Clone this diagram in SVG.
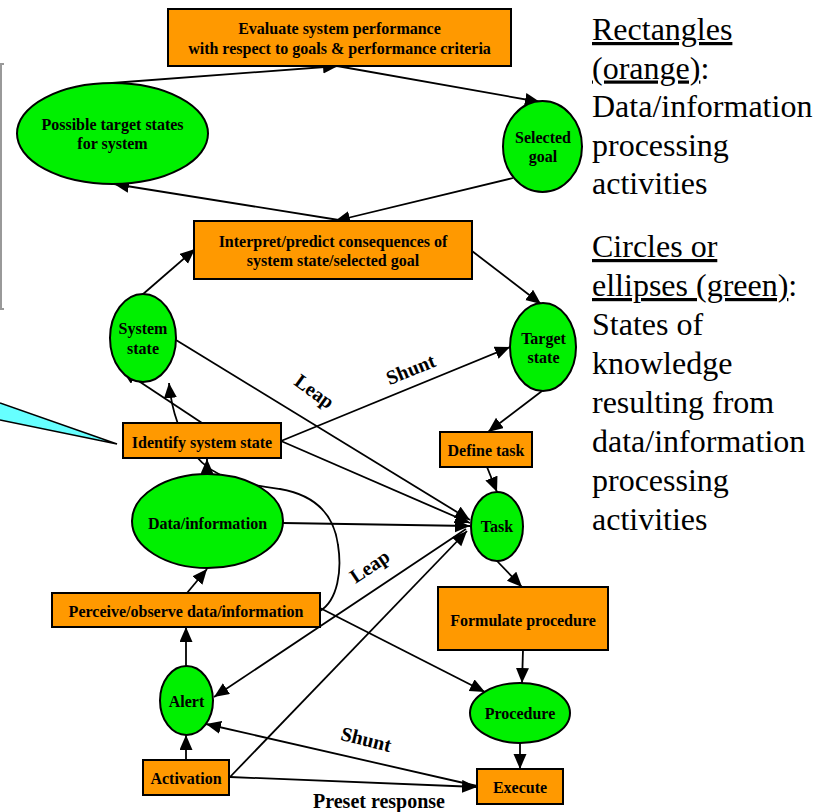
<svg xmlns="http://www.w3.org/2000/svg" width="832" height="812" viewBox="0 0 832 812">
  <defs>
    <marker id="arrow" markerUnits="userSpaceOnUse" markerWidth="16" markerHeight="14" refX="15" refY="6.5" orient="auto">
      <path d="M0,0 L15,6.5 L0,13 z" fill="#000"/>
    </marker>
    <style>
      .box { fill: #ff9900; stroke: #000; stroke-width: 2; }
      .state { fill: #00f000; stroke: #000; stroke-width: 2; }
      .lbl { font-family: "Liberation Serif", "Times New Roman", serif; font-weight: bold; font-size: 16px; fill: #000; text-anchor: middle; }
      .edge { fill: none; stroke: #000; stroke-width: 1.8; marker-end: url(#arrow); }
      .elbl { font-family: "Liberation Serif", "Times New Roman", serif; font-weight: bold; font-size: 20px; fill: #000; text-anchor: middle; }
      .legend { font-family: "Liberation Serif", "Times New Roman", serif; font-size: 32px; fill: #000; }
      .ul { text-decoration: underline; }
    </style>
  </defs>

  <rect width="832" height="812" fill="#fff"/>

  <!-- frame edge on the left -->
  <path d="M4,64 H1 V309 H4" fill="none" stroke="#999" stroke-width="2"/>

  <!-- callout pointer -->
  <path d="M0,403 L117,444 L0,420" fill="#66ffff" stroke="#000" stroke-width="1.5"/>

  <!-- connectors -->
  <g id="connectors">
    <line class="edge" x1="112" y1="83" x2="338" y2="66"/>
    <line class="edge" x1="337" y1="66" x2="540" y2="102"/>
    <line class="edge" x1="513" y1="178" x2="335" y2="221"/>
    <line class="edge" x1="345" y1="221" x2="114" y2="184"/>
    <line class="edge" x1="142" y1="295" x2="195" y2="249"/>
    <line class="edge" x1="472" y1="251" x2="541" y2="304"/>
    <line class="edge" x1="542" y1="391" x2="488" y2="432"/>
    <line class="edge" x1="487" y1="467" x2="497" y2="492"/>
    <line class="edge" x1="497" y1="561" x2="522" y2="587"/>
    <line class="edge" x1="523" y1="650" x2="522" y2="683"/>
    <line class="edge" x1="520" y1="743" x2="520" y2="769"/>
    <line class="edge" x1="176" y1="340" x2="470" y2="520"/>
    <line class="edge" x1="281" y1="441" x2="470" y2="523"/>
    <line class="edge" x1="281" y1="441" x2="510" y2="347"/>
    <line class="edge" x1="202" y1="423" x2="122" y2="370"/>
    <path class="edge" d="M320,611 C338,600 342,570 338,545 C334,515 315,495 280,489 C245,484 215,480 195,455 C182,438 172,415 169,383"/>
    <line class="edge" x1="207" y1="474" x2="207" y2="459"/>
    <line class="edge" x1="187" y1="593" x2="207" y2="569"/>
    <line class="edge" x1="186" y1="666" x2="186" y2="627"/>
    <line class="edge" x1="186" y1="760" x2="186" y2="735"/>
    <line class="edge" x1="283" y1="523" x2="470" y2="526"/>
    <line class="edge" x1="466" y1="529" x2="214" y2="697"/>
    <line class="edge" x1="230" y1="777" x2="467" y2="531"/>
    <line class="edge" x1="320" y1="608" x2="485" y2="692"/>
    <line class="edge" x1="477" y1="786" x2="206" y2="724"/>
    <line class="edge" x1="230" y1="777" x2="477" y2="787"/>

    <text class="elbl" transform="translate(314,392) rotate(36)" y="6">Leap</text>
    <text class="elbl" transform="translate(411,370) rotate(-22)" y="6">Shunt</text>
    <text class="elbl" transform="translate(370,567) rotate(-34)" y="6">Leap</text>
    <text class="elbl" transform="translate(366,740) rotate(14)" y="6">Shunt</text>
    <text class="elbl" x="379" y="808">Preset response</text>
  </g>

  <!-- nodes -->
  <g id="evaluate">
    <rect class="box" x="168" y="9" width="343" height="57"/>
    <text class="lbl" x="339.5" y="34">Evaluate system performance</text>
    <text class="lbl" x="339.5" y="54">with respect to goals &amp; performance criteria</text>
  </g>
  <g id="possible-targets">
    <ellipse class="state" cx="112.5" cy="133.5" rx="95.5" ry="50.5"/>
    <text class="lbl" x="112.5" y="130">Possible target states</text>
    <text class="lbl" x="112.5" y="149">for system</text>
  </g>
  <g id="selected-goal">
    <ellipse class="state" cx="542.5" cy="146.5" rx="39.5" ry="45.5"/>
    <text class="lbl" x="543" y="143">Selected</text>
    <text class="lbl" x="543" y="162">goal</text>
  </g>
  <g id="interpret">
    <rect class="box" x="194" y="221" width="278" height="58"/>
    <text class="lbl" x="333" y="247">Interpret/predict consequences of</text>
    <text class="lbl" x="333" y="266">system state/selected goal</text>
  </g>
  <g id="system-state">
    <ellipse class="state" cx="143" cy="338" rx="33" ry="44"/>
    <text class="lbl" x="143" y="334">System</text>
    <text class="lbl" x="143" y="354">state</text>
  </g>
  <g id="target-state">
    <ellipse class="state" cx="543" cy="347" rx="33" ry="44"/>
    <text class="lbl" x="543.5" y="344">Target</text>
    <text class="lbl" x="543.5" y="363">state</text>
  </g>
  <g id="identify">
    <rect class="box" x="123" y="423" width="158" height="35"/>
    <text class="lbl" x="202" y="448">Identify system state</text>
  </g>
  <g id="define-task">
    <rect class="box" x="440" y="432" width="92" height="35"/>
    <text class="lbl" x="486" y="455.5">Define task</text>
  </g>
  <g id="data-information">
    <ellipse class="state" cx="207.5" cy="521" rx="75.5" ry="47"/>
    <text class="lbl" x="207.5" y="528.5">Data/information</text>
  </g>
  <g id="task">
    <ellipse class="state" cx="497" cy="526.5" rx="26" ry="34.5"/>
    <text class="lbl" x="497" y="532">Task</text>
  </g>
  <g id="formulate">
    <rect class="box" x="438" y="587" width="170" height="63"/>
    <text class="lbl" x="523" y="625.5">Formulate procedure</text>
  </g>
  <g id="perceive">
    <rect class="box" x="52" y="593" width="268" height="34"/>
    <text class="lbl" x="186" y="616.5">Perceive/observe data/information</text>
  </g>
  <g id="alert">
    <ellipse class="state" cx="186.5" cy="700.5" rx="26.5" ry="34.5"/>
    <text class="lbl" x="186.5" y="707">Alert</text>
  </g>
  <g id="procedure">
    <ellipse class="state" cx="520" cy="713" rx="50" ry="30"/>
    <text class="lbl" x="520" y="718.5">Procedure</text>
  </g>
  <g id="activation">
    <rect class="box" x="143" y="760" width="86" height="35"/>
    <text class="lbl" x="186" y="784">Activation</text>
  </g>
  <g id="execute">
    <rect class="box" x="477" y="769" width="86" height="35"/>
    <text class="lbl" x="520" y="793">Execute</text>
  </g>

  <!-- legend -->
  <g id="legend" class="legend">
    <text x="592" y="40"><tspan class="ul">Rectangles</tspan></text>
    <text x="592" y="78.5"><tspan class="ul">(orange)</tspan>:</text>
    <text x="592" y="117">Data/information</text>
    <text x="592" y="155.5">processing</text>
    <text x="592" y="194">activities</text>
    <text x="592" y="257"><tspan class="ul">Circles or</tspan></text>
    <text x="592" y="296"><tspan class="ul">ellipses (green)</tspan>:</text>
    <text x="592" y="335">States of</text>
    <text x="592" y="374">knowledge</text>
    <text x="592" y="413">resulting from</text>
    <text x="592" y="452">data/information</text>
    <text x="592" y="491">processing</text>
    <text x="592" y="530">activities</text>
  </g>
</svg>
